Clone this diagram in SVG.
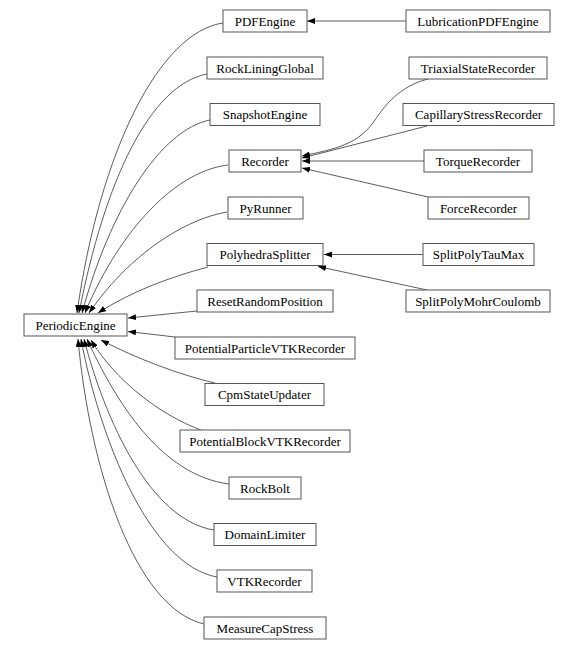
<svg xmlns="http://www.w3.org/2000/svg" width="578" height="650" viewBox="0 0 578 650">
<style>
.n rect{fill:#fff;stroke:#555;stroke-width:1}
.n text{font-family:"Liberation Serif","Times New Roman",serif;font-size:13px;text-anchor:middle;fill:#000}
#edges path{fill:none;stroke:#333;stroke-width:0.8;marker-end:url(#ah)}
</style>
<defs>
<marker id="ah" viewBox="0 0 8 6" refX="8" refY="3" markerWidth="8" markerHeight="6" orient="auto" markerUnits="userSpaceOnUse">
<path d="M0,0 L8,3 L0,6 z" fill="#000"/>
</marker>
</defs>
<rect width="578" height="650" fill="#fff"/>
<g id="edges">
<path d="M406,21 L307,21"/>
<path d="M428,79 C400,86 385,105 375,120 C358,145 335,149 302,156"/>
<path d="M427,126 L302,158"/>
<path d="M424,161 L302,161"/>
<path d="M428,197 L302,168"/>
<path d="M423,254.5 L324,254.5"/>
<path d="M427,290 L318,266.5"/>
<path d="M223,23 C160,32 100,150 77,313"/>
<path d="M207,74 C150,85 105,180 79,313"/>
<path d="M210,120 C160,130 110,210 82,313"/>
<path d="M228,165 C170,172 115,240 85,313"/>
<path d="M227,212 C180,220 125,260 89,313"/>
<path d="M208,267 C170,277 130,292 98,313"/>
<path d="M197,311 L128,318"/>
<path d="M175,337 L128,331.5"/>
<path d="M215,383 C180,375 135,358 101,340"/>
<path d="M201,430 C160,415 115,380 91,340"/>
<path d="M229,484 C160,475 115,400 87,339"/>
<path d="M214,530 C150,520 105,420 84,339"/>
<path d="M217,577 C150,565 100,440 81,339"/>
<path d="M204,624 C135,608 90,470 78,339"/>
</g>
<g id="PDFEngine" class="n"><rect x="223" y="10" width="84" height="22"/><text x="265" y="25.5">PDFEngine</text></g>
<g id="LubricationPDFEngine" class="n"><rect x="406" y="10" width="144" height="22"/><text x="478" y="25.5">LubricationPDFEngine</text></g>
<g id="RockLiningGlobal" class="n"><rect x="207" y="57" width="116" height="22"/><text x="265" y="72.5">RockLiningGlobal</text></g>
<g id="TriaxialStateRecorder" class="n"><rect x="409" y="57" width="138" height="22"/><text x="478" y="72.5">TriaxialStateRecorder</text></g>
<g id="SnapshotEngine" class="n"><rect x="210" y="103.5" width="110" height="22"/><text x="265" y="119">SnapshotEngine</text></g>
<g id="CapillaryStressRecorder" class="n"><rect x="403" y="103.5" width="151" height="22"/><text x="478.5" y="119">CapillaryStressRecorder</text></g>
<g id="Recorder" class="n"><rect x="229" y="150" width="72" height="22"/><text x="265" y="165.5">Recorder</text></g>
<g id="TorqueRecorder" class="n"><rect x="424" y="150" width="108" height="22"/><text x="478" y="165.5">TorqueRecorder</text></g>
<g id="PyRunner" class="n"><rect x="228" y="197" width="75" height="22"/><text x="265.5" y="212.5">PyRunner</text></g>
<g id="ForceRecorder" class="n"><rect x="428" y="197" width="101" height="22"/><text x="478.5" y="212.5">ForceRecorder</text></g>
<g id="PolyhedraSplitter" class="n"><rect x="207" y="243.5" width="116" height="22"/><text x="265" y="259">PolyhedraSplitter</text></g>
<g id="SplitPolyTauMax" class="n"><rect x="423" y="243.5" width="111" height="22"/><text x="478.5" y="259">SplitPolyTauMax</text></g>
<g id="ResetRandomPosition" class="n"><rect x="197" y="290" width="136" height="22"/><text x="265" y="305.5">ResetRandomPosition</text></g>
<g id="SplitPolyMohrCoulomb" class="n"><rect x="406" y="290" width="144" height="22"/><text x="478" y="305.5">SplitPolyMohrCoulomb</text></g>
<g id="PeriodicEngine" class="n"><rect x="24" y="314" width="103" height="22"/><text x="75.5" y="329.5">PeriodicEngine</text></g>
<g id="PotentialParticleVTKRecorder" class="n"><rect x="175" y="337" width="180" height="22"/><text x="265" y="352.5">PotentialParticleVTKRecorder</text></g>
<g id="CpmStateUpdater" class="n"><rect x="205" y="383.5" width="119" height="22"/><text x="264.5" y="399">CpmStateUpdater</text></g>
<g id="PotentialBlockVTKRecorder" class="n"><rect x="180" y="430" width="170" height="22"/><text x="265" y="445.5">PotentialBlockVTKRecorder</text></g>
<g id="RockBolt" class="n"><rect x="229" y="477" width="72" height="22"/><text x="265" y="492.5">RockBolt</text></g>
<g id="DomainLimiter" class="n"><rect x="214" y="523.5" width="102" height="22"/><text x="265" y="539">DomainLimiter</text></g>
<g id="VTKRecorder" class="n"><rect x="217" y="570" width="95" height="22"/><text x="264.5" y="585.5">VTKRecorder</text></g>
<g id="MeasureCapStress" class="n"><rect x="204" y="617" width="122" height="22"/><text x="265" y="632.5">MeasureCapStress</text></g>
</svg>
